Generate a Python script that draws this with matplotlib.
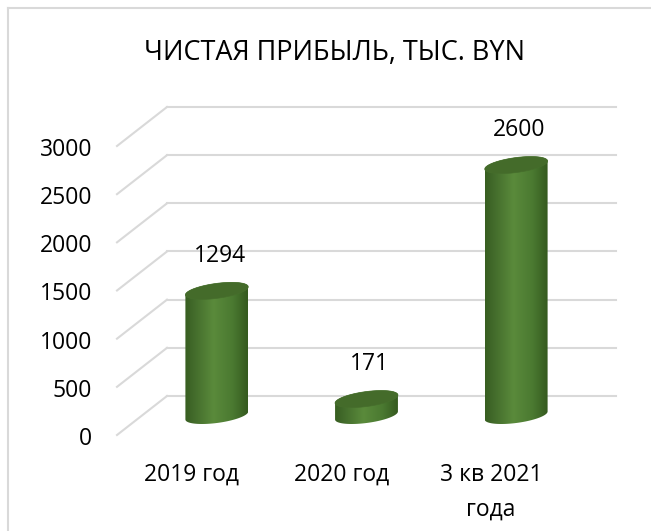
import numpy as np
import matplotlib
matplotlib.use('Agg')
import matplotlib.pyplot as plt
import matplotlib.transforms as mtransforms
from matplotlib.patches import Polygon
from matplotlib.lines import Line2D
from matplotlib.colors import LinearSegmentedColormap

# ---- data ----
categories = ['2019 год', '2020 год', '3 кв 2021\nгода']
values = [1294, 171, 2600]
y_ticks = [0, 500, 1000, 1500, 2000, 2500, 3000]
title = 'ЧИСТАЯ ПРИБЫЛЬ, ТЫС. BYN'

plt.rcParams['font.family'] = ['Open Sans', 'DejaVu Sans']

W, H, DPI = 651, 531, 100
fig = plt.figure(figsize=(W / DPI, H / DPI), dpi=DPI)
fig.patch.set_facecolor('white')

# mid-depth plane axes (where the cylinders stand)
ax = fig.add_axes([142 / W, (H - 415.5) / H, 449 / W, 289 / H])
ax.set_xlim(-0.5, len(categories) - 0.5)
ax.set_ylim(y_ticks[0], y_ticks[-1])
ax.axis('off')


def px_to_data(dx_px, dy_px):
    inv = ax.transData.inverted()
    p0 = inv.transform((0, 0))
    p1 = inv.transform((dx_px, dy_px))
    return p1[0] - p0[0], p1[1] - p0[1]


ddx, ddy = px_to_data(25, 19.5)   # half depth of the 3D box
grid_c = '#d9d9d9'
x0, x1 = ax.get_xlim()
text_c = '#000000'
fs = 16.5

label_tr = mtransforms.offset_copy(ax.transData, fig=fig, x=-25, y=-1, units='dots')
for v in y_ticks:
    ax.add_line(Line2D([x0 - ddx, x0 + ddx], [v - ddy, v + ddy], color=grid_c, lw=1.5, clip_on=False))
    ax.add_line(Line2D([x0 + ddx, x1 + ddx], [v + ddy, v + ddy], color=grid_c, lw=1.5, clip_on=False))
    ax.text(x0 - ddx, v - ddy, f'{v}', ha='right', va='center_baseline', fontsize=fs,
            color=text_c, transform=label_tr, clip_on=False)

# ---- cylinders ----
bar_w = 0.42
a = bar_w / 2
_, bd = px_to_data(0, 7.5)
_, sh = px_to_data(0, 4)
cmap = LinearSegmentedColormap.from_list('cyl', [
    (0.0, '#375e20'), (0.12, '#41692a'), (0.45, '#5a8a3b'),
    (0.75, '#4b7a31'), (1.0, '#355a1f')])
grad = np.linspace(0, 1, 256).reshape(1, -1)

for i, v in enumerate(values):
    cx = i
    tb = np.linspace(np.pi, 2 * np.pi, 60)
    tt = np.linspace(0, np.pi, 60)
    bx = cx + a * np.cos(tb)
    by = 0 + bd * np.sin(tb) + sh * np.cos(tb)
    tx = cx + a * np.cos(tt)
    ty = v + bd * np.sin(tt) + sh * np.cos(tt)
    verts = np.vstack([np.column_stack([bx, by]), np.column_stack([tx, ty])])
    body = Polygon(verts, closed=True, facecolor='none', edgecolor='none', clip_on=False)
    ax.add_patch(body)
    im = ax.imshow(grad, cmap=cmap, aspect='auto', interpolation='bicubic',
                   extent=[cx - a, cx + a, -bd - sh, v + bd + sh], zorder=2)
    im.set_clip_path(body)
    im.set_clip_box(fig.bbox)
    tf = np.linspace(0, 2 * np.pi, 120)
    ex = cx + a * np.cos(tf)
    ey = v + bd * np.sin(tf) + sh * np.cos(tf)
    ax.add_patch(Polygon(np.column_stack([ex, ey]), closed=True, facecolor='#446b2a',
                         edgecolor='#466e2c', lw=0.5, zorder=3, clip_on=False))
    ax.annotate(f'{v}', (cx, v), xytext=(2, 35 * 0.72), textcoords='offset points',
                ha='center', va='center', fontsize=fs, color=text_c, annotation_clip=False)

# category labels on the front edge
cat_tr = mtransforms.offset_copy(ax.transData, fig=fig, x=0, y=-28, units='dots')
for i, c in enumerate(categories):
    ax.text(i - ddx, 0 - ddy, c, ha='center', va='top', fontsize=fs, color=text_c,
            linespacing=1.6, transform=cat_tr, clip_on=False, multialignment='center')

ax.set_xlim(-0.5, len(categories) - 0.5)
ax.set_ylim(y_ticks[0], y_ticks[-1])

fig.text(335 / W, (H - 59.5) / H, title, ha='center', va='baseline', fontsize=19.5, color=text_c)

# chart frame
fig.add_artist(Line2D([8 / W, 8 / W], [0, (H - 8) / H], color=grid_c, lw=1.5, transform=fig.transFigure))
fig.add_artist(Line2D([8 / W, 1], [(H - 8) / H, (H - 8) / H], color=grid_c, lw=1.5, transform=fig.transFigure))

fig.savefig('out.png', dpi=DPI, facecolor='white')
